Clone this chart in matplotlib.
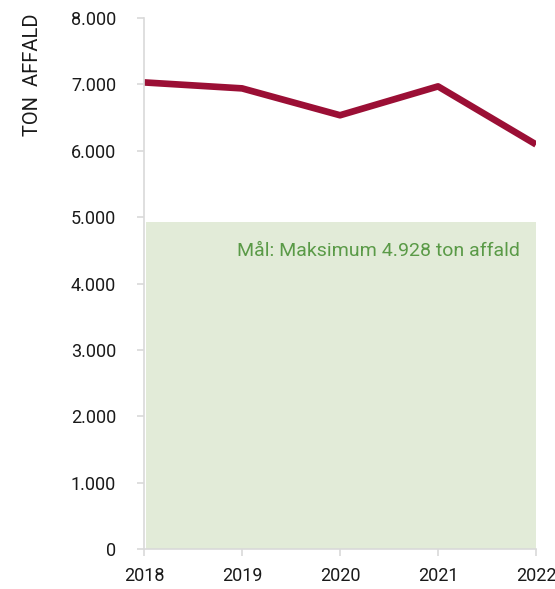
import matplotlib.pyplot as plt
from matplotlib.ticker import FuncFormatter

aar = [2018, 2019, 2020, 2021, 2022]
affald = [7030, 6940, 6535, 6970, 6095]
maal = 4928
yticks = [0, 1000, 2000, 3000, 4000, 5000, 6000, 7000, 8000]

plt.rcParams['font.family'] = ['Roboto', 'DejaVu Sans']

fig = plt.figure(figsize=(5.55, 5.89), dpi=100)
ax = fig.add_axes([0.2595, 0.0679, 0.7063, 0.9015])

ax.fill_between([aar[0] + 0.02, aar[-1]], 0, maal, color="#e2ebd8", linewidth=0)
ax.plot(aar, affald, color="#9b0f35", linewidth=4.8, solid_capstyle="butt")
ax.text(2021.84, maal - 440, "Mål: Maksimum 4.928 ton affald", color="#5a9a47",
        fontsize=14, ha="right", va="center")

ax.set_xlim(2018, 2022)
ax.set_ylim(0, 8000)
ax.set_xticks(aar)
ax.set_yticks(yticks)
ax.yaxis.set_major_formatter(FuncFormatter(lambda v, p: f"{int(v):,}".replace(",", ".")))

for s in ["top", "right"]:
    ax.spines[s].set_visible(False)
for s in ["left", "bottom"]:
    ax.spines[s].set_color("#d9d9d9")
    ax.spines[s].set_linewidth(1.2)
ax.tick_params(axis="both", colors="#d9d9d9", labelcolor="#1a1a1a", labelsize=13, length=5, width=1.2)
ax.tick_params(axis="y", pad=15)
ax.tick_params(axis="x", pad=8)

fig.text(33 / 555, 1 - 14 / 589, "TON  AFFALD", rotation=90, va="top", ha="center",
         fontsize=14.5, color="#1a1a1a")

fig.savefig("out.png", dpi=100)
